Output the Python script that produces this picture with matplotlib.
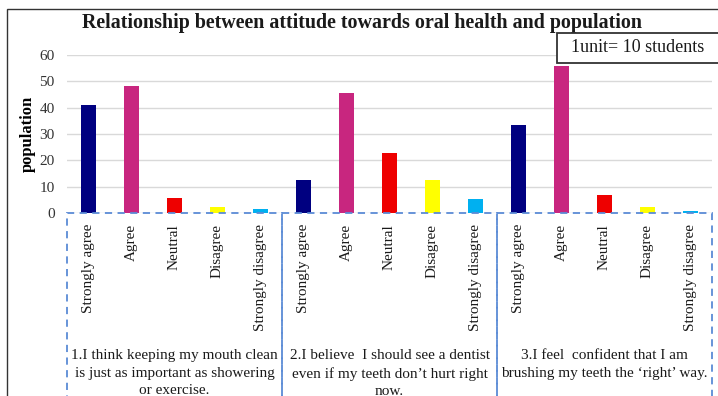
import matplotlib
matplotlib.use("Agg")
import matplotlib.pyplot as plt
import matplotlib.transforms as mtransforms
from matplotlib.patches import Rectangle
import numpy as np

categories = ["Strongly agree", "Agree", "Neutral", "Disagree", "Strongly disagree"]
groups = [
    "1.I think keeping my mouth clean\nis just as important as showering\nor exercise.",
    "2.I believe  I should see a dentist\neven if my teeth don\u2019t hurt right\nnow.",
    "3.I feel  confident that I am\nbrushing my teeth the \u2018right\u2019 way.",
]
values_q1 = [41.2, 48.2, 5.7, 2.3, 1.4]
values_q2 = [12.5, 45.6, 22.9, 12.5, 5.2]
values_q3 = [33.4, 56.0, 6.7, 2.3, 0.9]
yticks = [0, 10, 20, 30, 40, 50, 60]
colors = ["#000080", "#C8267F", "#EE0000", "#FFFF00", "#00B0F0"]

serif = ["Liberation Serif", "DejaVu Serif"]
plt.rcParams["font.family"] = serif

W, H = 718, 396
fig = plt.figure(figsize=(W / 100, H / 100), dpi=100)
ax = fig.add_axes([67 / W, 1 - 213 / H, (712 - 67) / W, (213 - 55) / H])

all_vals = [values_q1, values_q2, values_q3]
n = len(categories)
xs = []
labels = []
for g, vals in enumerate(all_vals):
    x = np.arange(n) + g * n
    ax.bar(x, vals, width=0.33, color=colors, zorder=3)
    xs.extend(x)
    labels.extend(categories)

ax.set_xlim(-0.5, 3 * n - 0.5)
ax.set_ylim(0, 60)
ax.set_yticks(yticks)
ax.yaxis.grid(True, color="#D9D9D9", linewidth=1)
ax.set_axisbelow(True)
for s in ax.spines.values():
    s.set_visible(False)
ax.tick_params(axis="y", length=0, pad=9, labelsize=11, labelcolor="#333333")
ax.set_xticks(xs)
ax.set_xticklabels(labels, rotation=90, va="top", ha="center", fontsize=11)
ax.tick_params(axis="x", length=0, pad=8, labelcolor="#1a1a1a")

ax.set_ylabel("population", fontsize=12, fontweight="bold")
ax.yaxis.set_label_coords((36 - 67) / (712 - 67), (213 - 134) / (213 - 55))

# dashed group boxes
trans = mtransforms.blended_transform_factory(ax.transData, ax.transAxes)
for g in range(3):
    x0 = g * n - 0.5
    r = Rectangle((x0, -2.0), n, 2.0, transform=trans, fill=False,
                  edgecolor="#5B8BD6", linestyle=(0, (4, 3)), linewidth=1.3,
                  clip_on=False, zorder=4)
    ax.add_patch(r)
    ax.text(g * n + 2, (213 - 349) / (213 - 55), groups[g], transform=trans,
            ha="center", va="top", fontsize=11, linespacing=1.45,
            color="#1a1a1a")

# figure frame
fig.patches.append(Rectangle((7 / W, -0.1), 1.0, 1 - 9 / H + 0.1, transform=fig.transFigure,
                             fill=False, edgecolor="#333333", linewidth=1.0))

fig.text(362 / W, 1 - 23 / H, "Relationship between attitude towards oral health and population",
         ha="center", va="center", fontsize=14.4, fontweight="bold", color="#1a1a1a")

# unit box
fig.patches.append(Rectangle((557 / W, 1 - 63 / H), 0.3, 30 / H, transform=fig.transFigure,
                             fill=True, facecolor="white", edgecolor="#333333", linewidth=1.3, zorder=5))
fig.text(571 / W, 1 - 48 / H, "1unit= 10 students", ha="left", va="center",
         fontsize=13, color="#1a1a1a", zorder=6)

fig.savefig("out.png", dpi=100)
